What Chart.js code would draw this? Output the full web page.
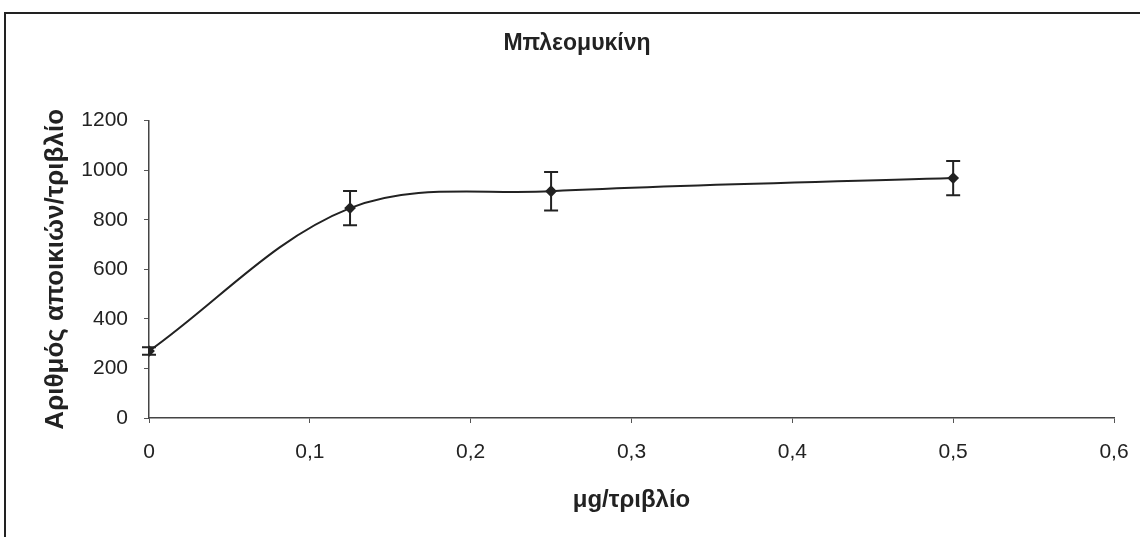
<!DOCTYPE html>
<html>
<head>
<meta charset="utf-8">
<script src="https://cdn.jsdelivr.net/npm/chart.js@4/dist/chart.umd.min.js"></script>
<style>
  html, body { margin: 0; padding: 0; background: #fff; }
  #wrap { position: relative; width: 1140px; height: 537px; overflow: hidden; }
  #frame {
    position: absolute; left: 4px; top: 12px; right: -4px; bottom: -4px;
    border-top: 2px solid #222; border-left: 2px solid #222;
  }
  canvas { position: absolute; left: 0; top: 0; }
</style>
</head>
<body>
<div id="wrap">
  <div id="frame"></div>
  <canvas id="chart" width="1140" height="537"></canvas>
</div>
<script>
// values
const doses = [0, 0.125, 0.25, 0.5];          // μg/τριβλίο
const colonies = [270, 847, 915, 968];        // αριθμός αποικιών/τριβλίο
const errors = [15, 69, 78, 69];              // error bar half-height
const xTicks = [0, 0.1, 0.2, 0.3, 0.4, 0.5, 0.6];
const yTicks = [0, 200, 400, 600, 800, 1000, 1200];

const FONT = '"Liberation Sans", Arial, sans-serif';
const INK = '#222';

// draws the vertical error bars with caps
const errorBars = {
  id: 'errorBars',
  afterDatasetsDraw(chart) {
    const { ctx, scales: { x, y } } = chart;
    ctx.save();
    ctx.strokeStyle = INK;
    ctx.lineWidth = 2;
    doses.forEach((d, i) => {
      const px = x.getPixelForValue(d);
      const top = y.getPixelForValue(colonies[i] + errors[i]);
      const bot = y.getPixelForValue(colonies[i] - errors[i]);
      ctx.beginPath();
      ctx.moveTo(px, top); ctx.lineTo(px, bot);
      ctx.moveTo(px - 7, top); ctx.lineTo(px + 7, top);
      ctx.moveTo(px - 7, bot); ctx.lineTo(px + 7, bot);
      ctx.stroke();
    });
    ctx.restore();
  }
};

const fmt = (v) => (v === 0 ? '0' : v.toFixed(1).replace('.', ','));

new Chart(document.getElementById('chart').getContext('2d'), {
  type: 'line',
  data: {
    datasets: [{
      data: doses.map((d, i) => ({ x: d, y: colonies[i] })),
      borderColor: INK,
      borderWidth: 2,
      tension: 0.35,
      fill: false,
      pointStyle: 'rectRot',
      pointRadius: 4.5,
      pointBackgroundColor: INK,
      pointBorderColor: INK
    }]
  },
  options: {
    responsive: false,
    animation: false,
    layout: { padding: { left: 40, right: 26, top: 0, bottom: 0 } },
    plugins: {
      legend: { display: false },
      tooltip: { enabled: false },
      title: {
        display: true,
        text: 'Μπλεομυκίνη',
        color: INK,
        font: { family: FONT, size: 23, weight: 'bold' },
        padding: { top: 30, bottom: 63 }
      }
    },
    scales: {
      x: {
        type: 'linear',
        min: 0,
        max: 0.6,
        afterBuildTicks: (s) => { s.ticks = xTicks.map((v) => ({ value: v })); },
        afterFit: (s) => { s.height = 119; s.paddingRight = 0; s.paddingLeft = 0; },
        ticks: {
          color: INK,
          font: { family: FONT, size: 21 },
          padding: 17,
          callback: (v) => fmt(v)
        },
        grid: { drawOnChartArea: false, drawTicks: true, tickLength: 5, color: '#555' },
        border: { color: '#444', width: 1.5 },
        title: {
          display: true,
          text: 'μg/τριβλίο',
          color: INK,
          font: { family: FONT, size: 24, weight: 'bold' },
          padding: { top: 0, bottom: 22 }
        }
      },
      y: {
        min: 0,
        max: 1200,
        afterBuildTicks: (s) => { s.ticks = yTicks.map((v) => ({ value: v })); },
        afterFit: (s) => { s.width = 109; },
        ticks: {
          color: INK,
          font: { family: FONT, size: 21 },
          padding: 16,
          callback: (v) => String(v)
        },
        grid: { drawOnChartArea: false, drawTicks: true, tickLength: 5, color: '#555' },
        border: { color: '#444', width: 1.5 },
        title: {
          display: true,
          text: 'Αριθμός αποικιών/τριβλίο',
          color: INK,
          font: { family: FONT, size: 26, weight: 'bold' },
          padding: { top: 0, bottom: 0 }
        }
      }
    }
  },
  plugins: [errorBars]
});
</script>
</body>
</html>
